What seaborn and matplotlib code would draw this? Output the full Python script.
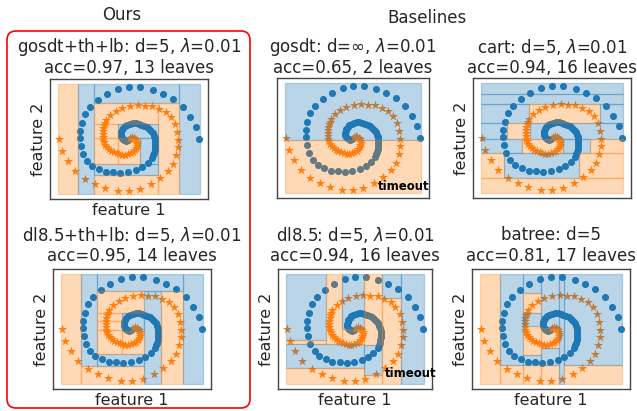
import matplotlib
matplotlib.use("Agg")
import matplotlib.pyplot as plt
import seaborn as sns
import pandas as pd
from matplotlib.patches import Rectangle, FancyBboxPatch
from matplotlib.transforms import IdentityTransform

# ---------------- data: two spirals (feature 1, feature 2) ----------------
blue_x = [0.993, 0.972, 0.934, 0.882, 0.812, 0.741, 0.666, 0.581, 0.501, 0.424,
          0.346, 0.282, 0.224, 0.188, 0.165, 0.153, 0.153, 0.160, 0.176, 0.207,
          0.242, 0.287, 0.336, 0.388, 0.440, 0.494, 0.548, 0.593, 0.631,
          0.664, 0.672, 0.679, 0.684, 0.686, 0.687, 0.686, 0.682, 0.676, 0.667,
          0.655, 0.641, 0.625, 0.607, 0.588, 0.568, 0.547, 0.527, 0.507, 0.489,
          0.474, 0.461, 0.452, 0.446, 0.443, 0.444, 0.448, 0.456, 0.467, 0.480,
          0.493]
blue_y = [0.498, 0.605, 0.699, 0.790, 0.863, 0.909, 0.948, 0.970, 0.970, 0.954,
          0.909, 0.857, 0.790, 0.726, 0.650, 0.574, 0.508, 0.432, 0.365, 0.304,
          0.258, 0.225, 0.204, 0.198, 0.195, 0.201, 0.219, 0.243, 0.280,
          0.325, 0.350, 0.377, 0.404, 0.430, 0.455, 0.480, 0.505, 0.528, 0.551,
          0.572, 0.590, 0.606, 0.620, 0.630, 0.638, 0.642, 0.642, 0.637, 0.628,
          0.615, 0.600, 0.583, 0.565, 0.546, 0.528, 0.512, 0.499, 0.490, 0.485,
          0.487]
orange_x = [0.007, 0.028, 0.066, 0.118, 0.188, 0.259, 0.334, 0.419, 0.499, 0.576,
            0.654, 0.718, 0.776, 0.812, 0.835, 0.847, 0.847, 0.840, 0.824, 0.793,
            0.758, 0.713, 0.664, 0.612, 0.560, 0.506, 0.452, 0.407, 0.369,
            0.336, 0.328, 0.321, 0.316, 0.314, 0.313, 0.314, 0.318, 0.324, 0.333,
            0.345, 0.359, 0.375, 0.393, 0.412, 0.432, 0.453, 0.473, 0.493, 0.511,
            0.526, 0.539, 0.548, 0.554, 0.557, 0.556, 0.552, 0.544, 0.533, 0.520,
            0.507]
orange_y = [0.502, 0.395, 0.301, 0.210, 0.137, 0.091, 0.052, 0.030, 0.030, 0.046,
            0.091, 0.143, 0.210, 0.274, 0.350, 0.426, 0.492, 0.568, 0.635, 0.696,
            0.742, 0.775, 0.796, 0.802, 0.805, 0.799, 0.781, 0.757, 0.720,
            0.675, 0.650, 0.623, 0.596, 0.570, 0.545, 0.520, 0.495, 0.472, 0.449,
            0.428, 0.410, 0.394, 0.380, 0.370, 0.362, 0.358, 0.358, 0.363, 0.372,
            0.385, 0.400, 0.417, 0.435, 0.454, 0.472, 0.488, 0.501, 0.510, 0.515,
            0.513]

# ---------------- data: tree leaves (x0, x1, y0, y1, predicted class) -----
# class 0 = blue, class 1 = orange
leaves_gosdt_thlb = [
    (0.000, 0.140, 0.000, 1.000, 1), (0.140, 0.251, 0.000, 1.000, 0),
    (0.856, 1.000, 0.000, 1.000, 0), (0.251, 0.856, 0.825, 1.000, 0),
    (0.705, 0.856, 0.000, 0.825, 1), (0.251, 0.705, 0.000, 0.173, 1),
    (0.251, 0.705, 0.173, 0.270, 0), (0.251, 0.705, 0.634, 0.825, 1),
    (0.251, 0.419, 0.506, 0.634, 1), (0.419, 0.705, 0.506, 0.634, 0),
    (0.251, 0.419, 0.270, 0.506, 1), (0.419, 0.577, 0.270, 0.506, 1),
    (0.577, 0.705, 0.270, 0.506, 0)]
leaves_gosdt = [
    (0.000, 1.000, 0.486, 1.000, 0), (0.000, 1.000, 0.000, 0.486, 1)]
leaves_cart = [
    (0.000, 1.000, 0.900, 1.000, 0), (0.000, 1.000, 0.808, 0.900, 0),
    (0.000, 0.336, 0.640, 0.808, 0), (0.336, 0.840, 0.640, 0.808, 1),
    (0.840, 1.000, 0.640, 0.808, 0), (0.000, 0.183, 0.488, 0.640, 0),
    (0.183, 0.347, 0.488, 0.640, 1), (0.347, 1.000, 0.488, 0.640, 0),
    (0.000, 0.289, 0.366, 0.488, 0), (0.289, 0.580, 0.366, 0.488, 1),
    (0.580, 0.770, 0.366, 0.488, 0), (0.770, 1.000, 0.366, 0.488, 1),
    (0.000, 0.160, 0.137, 0.366, 1), (0.160, 0.690, 0.137, 0.366, 0),
    (0.690, 1.000, 0.137, 0.366, 1), (0.000, 1.000, 0.000, 0.137, 1)]
leaves_dl85_thlb = [
    (0.000, 0.140, 0.000, 1.000, 1), (0.140, 0.251, 0.160, 1.000, 0),
    (0.140, 0.588, 0.000, 0.160, 1), (0.588, 0.705, 0.000, 0.847, 0),
    (0.705, 0.860, 0.000, 0.847, 1), (0.860, 1.000, 0.000, 1.000, 0),
    (0.251, 0.860, 0.847, 1.000, 0), (0.251, 0.588, 0.160, 0.270, 0),
    (0.251, 0.588, 0.648, 0.847, 1), (0.251, 0.426, 0.572, 0.648, 1),
    (0.251, 0.426, 0.495, 0.572, 1), (0.251, 0.426, 0.270, 0.495, 1),
    (0.426, 0.588, 0.480, 0.648, 0), (0.426, 0.588, 0.270, 0.480, 1)]
leaves_dl85 = [
    (0.000, 0.287, 0.398, 1.000, 0), (0.000, 0.287, 0.367, 0.398, 1),
    (0.000, 0.565, 0.144, 0.367, 0), (0.000, 0.565, 0.000, 0.144, 1),
    (0.287, 0.405, 0.367, 1.000, 1), (0.405, 0.565, 0.500, 1.000, 0),
    (0.405, 0.565, 0.367, 0.500, 1), (0.565, 0.694, 0.358, 1.000, 1),
    (0.565, 0.694, 0.080, 0.358, 0), (0.565, 0.694, 0.000, 0.080, 1),
    (0.694, 0.835, 0.786, 1.000, 0), (0.694, 0.835, 0.000, 0.786, 1),
    (0.835, 1.000, 0.000, 1.000, 0)]
leaves_batree = [
    (0.000, 0.140, 0.000, 1.000, 1), (0.140, 0.300, 0.000, 0.174, 1),
    (0.300, 0.430, 0.000, 0.174, 1), (0.430, 0.556, 0.000, 0.174, 1),
    (0.556, 0.590, 0.000, 1.000, 0), (0.590, 1.000, 0.000, 0.174, 1),
    (0.140, 0.300, 0.174, 1.000, 0), (0.300, 0.430, 0.830, 1.000, 0),
    (0.300, 0.430, 0.648, 0.830, 1), (0.300, 0.430, 0.526, 0.648, 0),
    (0.300, 0.430, 0.266, 0.526, 1), (0.300, 0.430, 0.174, 0.266, 0),
    (0.430, 0.556, 0.510, 1.000, 0), (0.430, 0.556, 0.330, 0.510, 1),
    (0.430, 0.556, 0.174, 0.330, 0), (0.590, 1.000, 0.174, 1.000, 0)]

titles = [r"gosdt+th+lb: d=5, $\lambda$=0.01", r"gosdt: d=$\infty$, $\lambda$=0.01",
          r"cart: d=5, $\lambda$=0.01", r"dl8.5+th+lb: d=5, $\lambda$=0.01",
          r"dl8.5: d=5, $\lambda$=0.01", "batree: d=5"]
subtitles = ["acc=0.97, 13 leaves", "acc=0.65, 2 leaves", "acc=0.94, 16 leaves",
             "acc=0.95, 14 leaves", "acc=0.94, 16 leaves", "acc=0.81, 17 leaves"]
all_leaves = [leaves_gosdt_thlb, leaves_gosdt, leaves_cart,
              leaves_dl85_thlb, leaves_dl85, leaves_batree]

# ---------------- layout (pixels: left, top, right, bottom) ----------------
W, H = 637, 411
boxes = [(50, 79, 208, 199), (277, 78, 429, 198), (473, 78, 631, 198),
         (53, 269, 211, 389), (278, 269, 432, 389), (472, 269, 630, 389)]
show_xlabel = [True, False, False, True, True, True]
show_ylabel = [True, False, True, True, True, True]
timeout = [False, True, False, False, True, False]
timeout_pos = {1: (1.0, 0.10), 4: (1.03, 0.13)}

sns.set_theme(style="white")
plt.rcParams["font.family"] = ["DejaVu Sans"]
plt.rcParams["mathtext.fontset"] = "dejavusans"

fig = plt.figure(figsize=(W / 100, H / 100), dpi=100)

pts_b = pd.DataFrame({"f1": blue_x, "f2": blue_y})
pts_o = pd.DataFrame({"f1": orange_x, "f2": orange_y})
cols = {0: "tab:blue", 1: "tab:orange"}

for i, (l, t, r, b) in enumerate(boxes):
    ax = fig.add_axes([l / W, (H - b) / H, (r - l) / W, (b - t) / H])
    sns.scatterplot(data=pts_b, x="f1", y="f2", ax=ax, color="tab:blue",
                    marker="o", s=26, linewidth=0, zorder=1)
    sns.scatterplot(data=pts_o, x="f1", y="f2", ax=ax, color="tab:orange",
                    marker="*", s=48, linewidth=0, zorder=1)
    for (x0, x1, y0, y1, c) in all_leaves[i]:
        ax.add_patch(Rectangle((x0, y0), x1 - x0, y1 - y0, facecolor=cols[c],
                               edgecolor=cols[c], alpha=0.3, linewidth=0.9,
                               zorder=2))
    ax.set_xlim(-0.0575, 1.0575)
    ax.set_ylim(-0.046, 1.046)
    ax.set_xticks([])
    ax.set_yticks([])
    for sp in ax.spines.values():
        sp.set_color("#444444")
        sp.set_linewidth(1.0)
    ax.set_xlabel("feature 1" if show_xlabel[i] else "", fontsize=11.5, labelpad=3)
    ax.set_ylabel("feature 2" if show_ylabel[i] else "", fontsize=11.5, labelpad=3)
    cx = (l + r) / 2 / W
    top_y = 47 if i < 3 else 235
    fig.text(cx, 1 - top_y / H, titles[i], ha="center", va="center", fontsize=12)
    fig.text(cx, 1 - (top_y + 21) / H, subtitles[i], ha="center", va="center",
             fontsize=12)
    if timeout[i]:
        tx, ty = timeout_pos[i]
        ax.text(tx, ty, "timeout", transform=ax.transAxes, ha="right",
                va="center", fontsize=8.5, fontweight="bold", color="black",
                zorder=5, clip_on=False)

fig.text(122 / W, 1 - 15 / H, "Ours", ha="center", va="center", fontsize=12)
fig.text(427 / W, 1 - 18 / H, "Baselines", ha="center", va="center", fontsize=12)

frame = FancyBboxPatch((7, H - 408), 243, 377,
                       boxstyle="round,pad=0,rounding_size=9",
                       transform=IdentityTransform(), facecolor="none",
                       edgecolor="red", linewidth=1.2)
fig.add_artist(frame)

fig.savefig("out.png", dpi=100)
